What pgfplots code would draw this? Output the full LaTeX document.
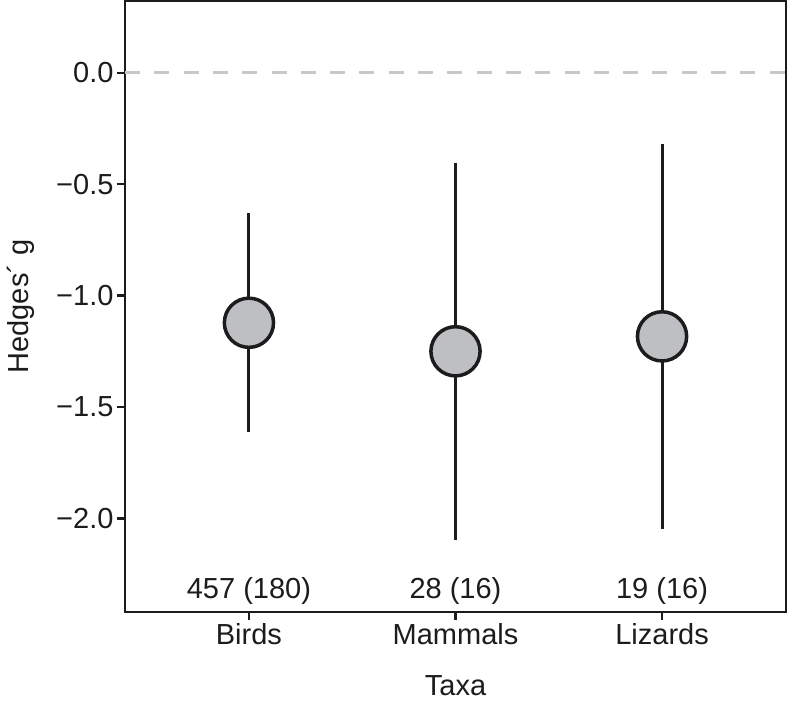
\documentclass[border=0pt]{standalone}
\usepackage{fontspec}
\setmainfont{Liberation Sans}
\usepackage{pgfplots}
\pgfplotsset{compat=1.18}
\definecolor{ptfill}{RGB}{190,191,195}
\definecolor{zerogray}{RGB}{200,200,200}
\definecolor{ink}{RGB}{28,28,28}
\newcommand{\bigf}{\fontsize{29}{34}\selectfont}
\begin{document}
\begin{tikzpicture}
\begin{axis}[
  scale only axis, width=661pt, height=611pt,
  xmin=0.4, xmax=3.6, ymin=-2.42, ymax=0.322,
  axis line style={line width=2.5pt, ink},
  xtick={1,2,3}, xticklabels={Birds,Mammals,Lizards},
  ytick={-2,-1.5,-1,-0.5,0}, yticklabels={−2.0,−1.5,−1.0,−0.5,0.0},
  tick align=outside, xtick pos=bottom, ytick pos=left,
  major tick length=8pt,
  tick style={line width=2.5pt, ink},
  tick label style={font=\bigf, text=ink},
  xlabel={Taxa}, ylabel={Hedges´ g},
  xlabel style={font=\bigf, text=ink, inner sep=0pt, at={(axis description cs:0.5,0)}, anchor=base, yshift=-83pt},
  ylabel style={font=\bigf, text=ink, inner sep=0pt, at={(axis description cs:0,0.5)}, anchor=base, yshift=96.7pt},
]
\addplot[zerogray, line width=3pt, dash pattern=on 15pt off 14.3pt] coordinates {(0.4,0) (3.6,0)};
\addplot[ink, line width=3pt] coordinates {(1,-0.63) (1,-1.612)};
\addplot[ink, line width=3pt] coordinates {(2,-0.405) (2,-2.098)};
\addplot[ink, line width=3pt] coordinates {(3,-0.32) (3,-2.046)};
\addplot[only marks, mark=*, mark size=24.6pt, mark options={fill=ptfill, draw=ink, line width=3.5pt}]
  coordinates {(1,-1.122) (2,-1.250) (3,-1.183)};
\addplot[draw=none, mark=none, nodes near coords, point meta=explicit symbolic,
  nodes near coords style={anchor=base, font=\bigf, text=ink}]
  coordinates {(1,-2.36) [457 (180)] (2,-2.36) [28 (16)] (3,-2.36) [19 (16)]};
\coordinate (bl) at (rel axis cs:0,0);
\coordinate (tr) at (rel axis cs:1,1);
\end{axis}
\pgfresetboundingbox
\path[use as bounding box] ([shift={(-125pt,-88pt)}]bl) rectangle ([shift={(2pt,1pt)}]tr);
\end{tikzpicture}
\end{document}
